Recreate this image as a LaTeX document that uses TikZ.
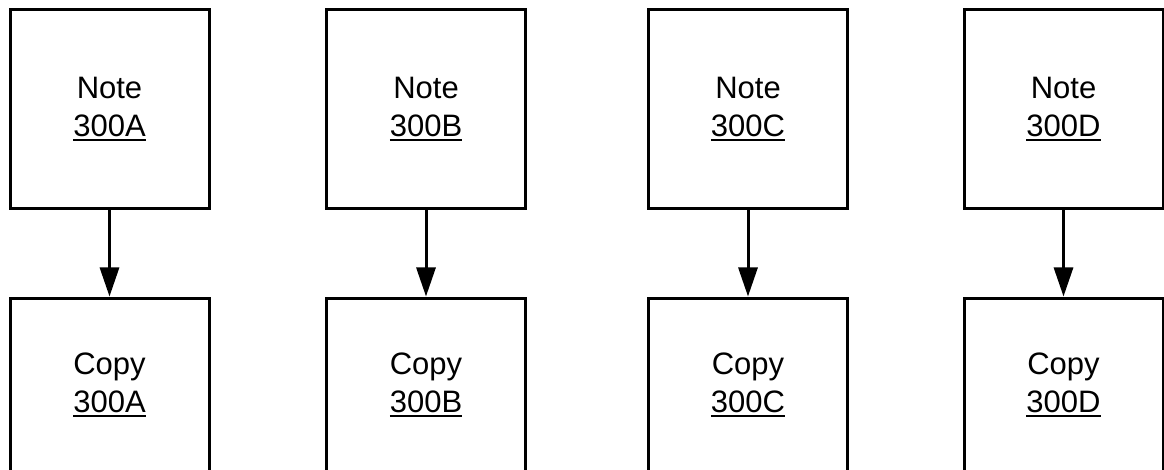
\documentclass[tikz,border=0pt]{standalone}
\usepackage{fontspec}
\setmainfont{Liberation Sans}
\usetikzlibrary{arrows.meta}
\newcommand\ulx[1]{\setbox0\hbox{#1}\rlap{\rule[-5pt]{\wd0}{2pt}}\box0}
\tikzset{
  box/.style={draw, line width=3pt, minimum width=199pt, inner sep=0pt, align=center,
    font=\fontsize{31}{38}\selectfont},
  topbox/.style={box, minimum height=199pt},
  botbox/.style={box, minimum height=174pt},
  conn/.style={line width=3pt, -{Triangle[length=29pt,width=19pt]}}
}
\begin{document}
\begin{tikzpicture}[x=1pt,y=-1pt]
\clip (0,0) rectangle (1164,470);
\useasboundingbox (0,0) rectangle (1164,470);
\node[topbox] (na) at (109.5,109) {Note\\\ulx{300A}};
\node[topbox] (nb) at (426,109) {Note\\\ulx{300B}};
\node[topbox] (nc) at (748,109) {Note\\\ulx{300C}};
\node[topbox] (nd) at (1063.5,109) {Note\\\ulx{300D}};
\node[botbox] (ca) at (109.5,385) {Copy\\\ulx{300A}};
\node[botbox] (cb) at (426,385) {Copy\\\ulx{300B}};
\node[botbox] (cc) at (748,385) {Copy\\\ulx{300C}};
\node[botbox] (cd) at (1063.5,385) {Copy\\\ulx{300D}};
\draw[conn] (na) -- (ca);
\draw[conn] (nb) -- (cb);
\draw[conn] (nc) -- (cc);
\draw[conn] (nd) -- (cd);
\end{tikzpicture}
\end{document}
